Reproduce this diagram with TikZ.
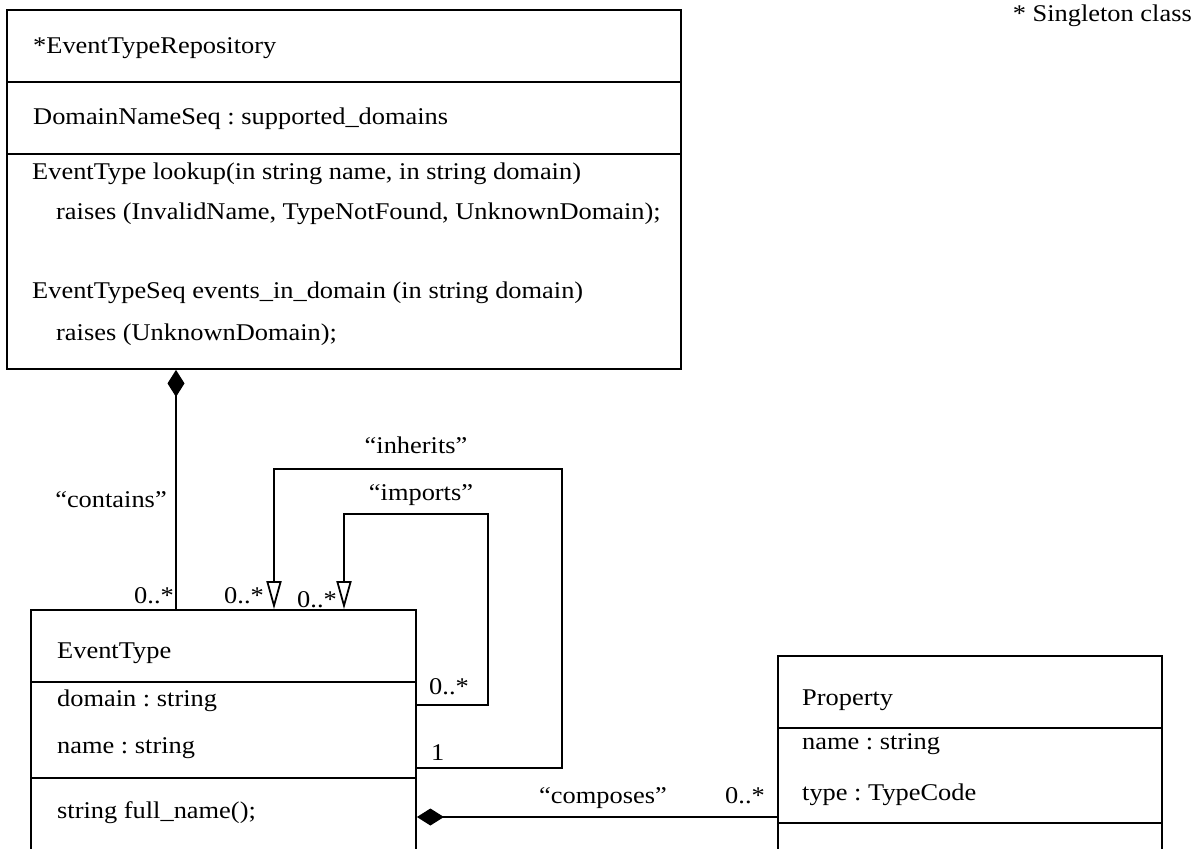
\documentclass[tikz,border=0pt]{standalone}
\usepackage{fontspec}
\setmainfont{Liberation Serif}[FakeStretch=1.1]
\usetikzlibrary{arrows.meta}
\frenchspacing
\begin{document}
\begin{tikzpicture}[x=1pt,y=-1pt,
  lw/.style={line width=1.8pt},
  classbox/.style={draw,lw,rectangle,inner sep=0pt},
  txt/.style={anchor=base west,inner sep=0pt,font=\fontsize{24pt}{28pt}\selectfont},
  lbl/.style={anchor=base,inner sep=0pt,font=\fontsize{24pt}{28pt}\selectfont},
  lble/.style={anchor=base east,inner sep=0pt,font=\fontsize{24pt}{28pt}\selectfont},
  comp/.style={lw,{Diamond[length=27pt,width=17pt]}-},
  gen/.style={lw,-{Triangle[open,length=28pt,width=15pt]}},
]
\useasboundingbox (0,0) rectangle (1195,849);
\clip (0,0) rectangle (1195,849);

% class boxes
\node[classbox,minimum width=674pt,minimum height=359pt] (repo) at (344,189.5) {};
\node[classbox,minimum width=385pt,minimum height=290pt] (evt) at (223.5,755) {};
\node[classbox,minimum width=384pt,minimum height=250pt] (prop) at (970,781) {};

% compartments
\draw[lw] (repo.west |- 0,82) -- (repo.east |- 0,82);
\draw[lw] (repo.west |- 0,154) -- (repo.east |- 0,154);
\draw[lw] (evt.west |- 0,682) -- (evt.east |- 0,682);
\draw[lw] (evt.west |- 0,778) -- (evt.east |- 0,778);
\draw[lw] (prop.west |- 0,728) -- (prop.east |- 0,728);
\draw[lw] (prop.west |- 0,823) -- (prop.east |- 0,823);

% texts of EventTypeRepository
\node[txt] (r1) at (33,53) {*EventTypeRepository};
\node[txt] (r2) at (33,124) {DomainNameSeq : supported\_domains};
\node[txt] (r3) at (32,179) {EventType lookup(in string name, in string domain)};
\node[txt] (r4) at (56,219) {raises (InvalidName, TypeNotFound, UnknownDomain);};
\node[txt] (r5) at (32,298) {EventTypeSeq events\_in\_domain (in string domain)};
\node[txt] (r6) at (56,340) {raises (UnknownDomain);};

% texts of EventType
\node[txt] (e1) at (57,658) {EventType};
\node[txt] (e2) at (57,706) {domain : string};
\node[txt] (e3) at (57,753) {name : string};
\node[txt] (e4) at (57,818) {string full\_name();};

% texts of Property
\node[txt] (p1) at (802,705) {Property};
\node[txt] (p2) at (802,749) {name : string};
\node[txt] (p3) at (802,800) {type : TypeCode};

% note
\node[lble] (note) at (1192,21) {* Singleton class};

% connectors
\draw[comp] (repo.south -| 176,0) -- (evt.north -| 176,0);
\draw[gen] (evt.east |- 0,768) -- (562,768) -- (562,469) -- (274,469) -- (evt.north -| 274,0);
\draw[gen] (evt.east |- 0,705) -- (488,705) -- (488,514) -- (344,514) -- (evt.north -| 344,0);
\draw[comp] (evt.east |- 0,817) -- (prop.west |- 0,817);

% connector labels
\node[lbl] (lcont) at (111,507) {“contains”};
\node[lbl] (linh) at (416,453) {“inherits”};
\node[lbl] (limp) at (421,500) {“imports”};
\node[lbl] (lcomp) at (603,803) {“composes”};
\node[lble] (m1) at (174,603) {0..*};
\node[lble] (m2) at (264,603) {0..*};
\node[txt] (m3) at (297,607) {0..*};
\node[txt] (m4) at (429,694) {0..*};
\node[txt] (m5) at (431,760) {1};
\node[txt] (m6) at (725,803) {0..*};
\end{tikzpicture}
\end{document}
